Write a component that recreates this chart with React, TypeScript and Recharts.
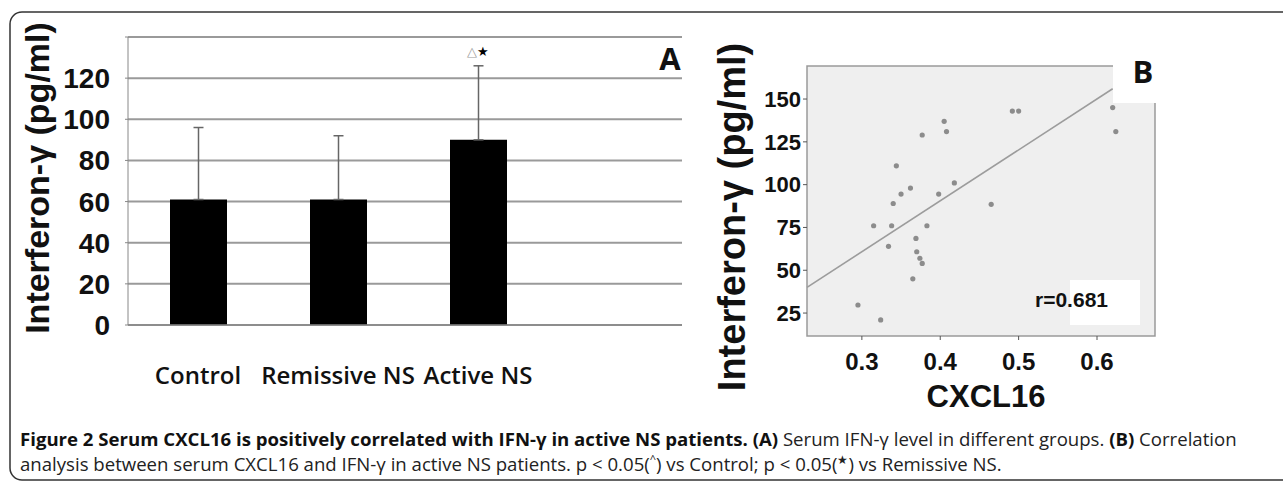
import React from "react";
import {
  BarChart, Bar, XAxis, YAxis, CartesianGrid, ErrorBar, ReferenceDot,
  ScatterChart, Scatter, ReferenceArea, ReferenceLine,
} from "recharts";

// panel A: IFN-γ by group (mean, upper SD)
const groups = ["Control", "Remissive NS", "Active NS"];
const means = [61, 61, 90];
const sdUp = [35, 31, 36];
const barTicks = [0, 20, 40, 60, 80, 100, 120, 140];

// panel B: CXCL16 vs IFN-γ in active NS
const cxcl16 = [0.492, 0.5, 0.62, 0.624, 0.405, 0.408, 0.377, 0.344, 0.362, 0.35, 0.34, 0.398, 0.418,
  0.465, 0.315, 0.338, 0.383, 0.369, 0.334, 0.37, 0.374, 0.377, 0.365, 0.295, 0.324];
const ifng = [143, 143, 145, 131, 137, 131, 129, 111, 98, 94.5, 89, 94.5, 101,
  88.5, 76, 76, 76, 68.6, 64, 60.8, 57, 54, 45, 29.7, 21];
const fitX = [0.23, 0.62];
const fitY = [40, 156];
const xTicks = [0.3, 0.4, 0.5, 0.6];
const yTicks = [25, 50, 75, 100, 125, 150];

const barData = groups.map((g, i) => ({ group: g, mean: means[i], err: [0, sdUp[i]] }));
const points = cxcl16.map((x, i) => ({ x, y: ifng[i] }));

const SANS = "'Liberation Sans', Arial, sans-serif";
const OPEN = "'Open Sans', 'Noto Sans', sans-serif";

const yTitle = (dx: number, dy: number, size: number) => (props: any) => {
  const { x, y, height } = props.viewBox;
  const cx = x + dx;
  const cy = y + height / 2 + dy;
  return (
    <text x={cx} y={cy} transform={`rotate(-90 ${cx} ${cy})`} textAnchor="middle"
      dominantBaseline="central" fontFamily={SANS} fontWeight="bold" fontSize={size} fill="#111">
      Interferon-γ (pg/ml)
    </text>
  );
};

const xTitle = (props: any) => {
  const { x, y, width } = props.viewBox;
  return (
    <text x={x + width / 2 + 5} y={y + 71} textAnchor="middle" fontFamily={SANS}
      fontWeight="bold" fontSize={31} fill="#111">CXCL16</text>
  );
};

const sigMark = (props: any) => {
  const { x, y } = props.viewBox;
  return (
    <text x={x} y={y} textAnchor="middle" dominantBaseline="central" fontSize={13}>
      <tspan fill="#999">△</tspan><tspan fill="#000">★</tspan>
    </text>
  );
};

const dot = (p: any) => <circle cx={p.cx} cy={p.cy} r={2.6} fill="#8c8c8c" />;

export default function App() {
  return (
    <div style={{ position: "absolute", left: 0, top: 0, width: 1283, height: 483, background: "#fff" }}>
      <div style={{ position: "absolute", left: 0, top: 0 }}>
        <BarChart width={700} height={420} data={barData} margin={{ top: 37, right: 18, left: 0, bottom: 0 }}>
          <CartesianGrid vertical={false} stroke="#9a9a9a" strokeWidth={2} />
          <XAxis dataKey="group" height={95} padding={{ left: 0, right: 134 }} tickLine={false} tickSize={0}
            tickMargin={42} axisLine={{ stroke: "#888", strokeWidth: 1.5 }}
            tick={{ fontSize: 24, fontWeight: 600, fontFamily: OPEN, fill: "#111" }} />
          <YAxis type="number" domain={[0, 140]} ticks={barTicks} interval={0} width={128}
            tickFormatter={(v: number) => (v === 140 ? "" : String(v))}
            tickSize={3} tickMargin={15} axisLine={{ stroke: "#888" }} tickLine={{ stroke: "#888" }}
            tick={{ fontSize: 28, fontWeight: "bold", fontFamily: SANS, fill: "#111" }}
            label={{ content: yTitle(37, -3, 34) }} />
          <Bar dataKey="mean" fill="#000" barSize={57} isAnimationActive={false}>
            <ErrorBar dataKey="err" direction="y" width={5} stroke="#666" strokeWidth={1.5} isAnimationActive={false} />
          </Bar>
          <ReferenceDot x="Active NS" y={133} r={0} stroke="none" label={{ content: sigMark }} />
        </BarChart>
      </div>

      <div style={{ position: "absolute", left: 690, top: 0 }}>
        <ScatterChart width={593} height={483} margin={{ top: 66, right: 128, left: 0, bottom: 67 }}>
          <CartesianGrid horizontal={false} vertical={false} fill="#efefef" fillOpacity={1} />
          <XAxis type="number" dataKey="x" domain={[0.23, 0.674]} ticks={xTicks} interval={0}
            allowDataOverflow height={80} axisLine={false} tickSize={4} tickMargin={13}
            tickLine={{ stroke: "#555" }} tickFormatter={(v: number) => v.toFixed(1)}
            tick={{ fontSize: 24, fontWeight: "bold", fontFamily: SANS, fill: "#111" }}
            label={{ content: xTitle }} />
          <YAxis type="number" dataKey="y" domain={[11.6, 169.3]} ticks={yTicks} interval={0}
            allowDataOverflow width={117} axisLine={false} tickSize={4} tickMargin={2}
            tickLine={{ stroke: "#555" }}
            tick={{ fontSize: 22, fontWeight: "bold", fontFamily: SANS, fill: "#111" }}
            label={{ content: yTitle(42, 16, 38) }} />
          <ReferenceArea x1={0.23} x2={0.674} y1={11.6} y2={169.3} fill="none" stroke="#9a9a9a" strokeWidth={1.5} />
          <ReferenceLine segment={[{ x: fitX[0], y: fitY[0] }, { x: fitX[1], y: fitY[1] }]}
            stroke="#9c9c9c" strokeWidth={1.6} />
          <Scatter data={points} shape={dot} isAnimationActive={false} />
        </ScatterChart>
      </div>

      <svg width={1283} height={483} style={{ position: "absolute", left: 0, top: 0, pointerEvents: "none" }}>
        <rect x={10} y={12} width={1320} height={468} rx={12} fill="none" stroke="#333" strokeWidth={1.5} />
        <text x={670} y={70} textAnchor="middle" fontFamily={OPEN} fontWeight={700} fontSize={31} fill="#111">A</text>
        <rect x={1113} y={56} width={60} height={47} fill="#fff" />
        <text x={1143} y={83} textAnchor="middle" fontFamily={OPEN} fontWeight={700} fontSize={31} fill="#111">B</text>
        <rect x={1070} y={280} width={70} height={45} fill="#fff" />
        <text x={1035} y={307} fontFamily={SANS} fontWeight="bold" fontSize={21} fill="#111">r=0.681</text>
        <text x={20} y={446} fontFamily={OPEN} fontSize={18.6} fill="#222">
          <tspan fontWeight={700} fill="#111">Figure 2 Serum CXCL16 is positively correlated with IFN-γ in active NS patients.</tspan>
          <tspan fontWeight={700} fill="#111"> (A)</tspan> Serum IFN-γ level in different groups.
          <tspan fontWeight={700} fill="#111"> (B)</tspan> Correlation
        </text>
        <text x={20} y={471} fontFamily={OPEN} fontSize={18.6} fill="#222">
          analysis between serum CXCL16 and IFN-γ in active NS patients. p {"<"} 0.05(<tspan fontSize={11} dy={-8}>^</tspan><tspan dy={8}>) vs Control; p {"<"} 0.05(</tspan><tspan fontSize={12} dy={-7}>★</tspan><tspan dy={7}>) vs Remissive NS.</tspan>
        </text>
      </svg>
    </div>
  );
}
